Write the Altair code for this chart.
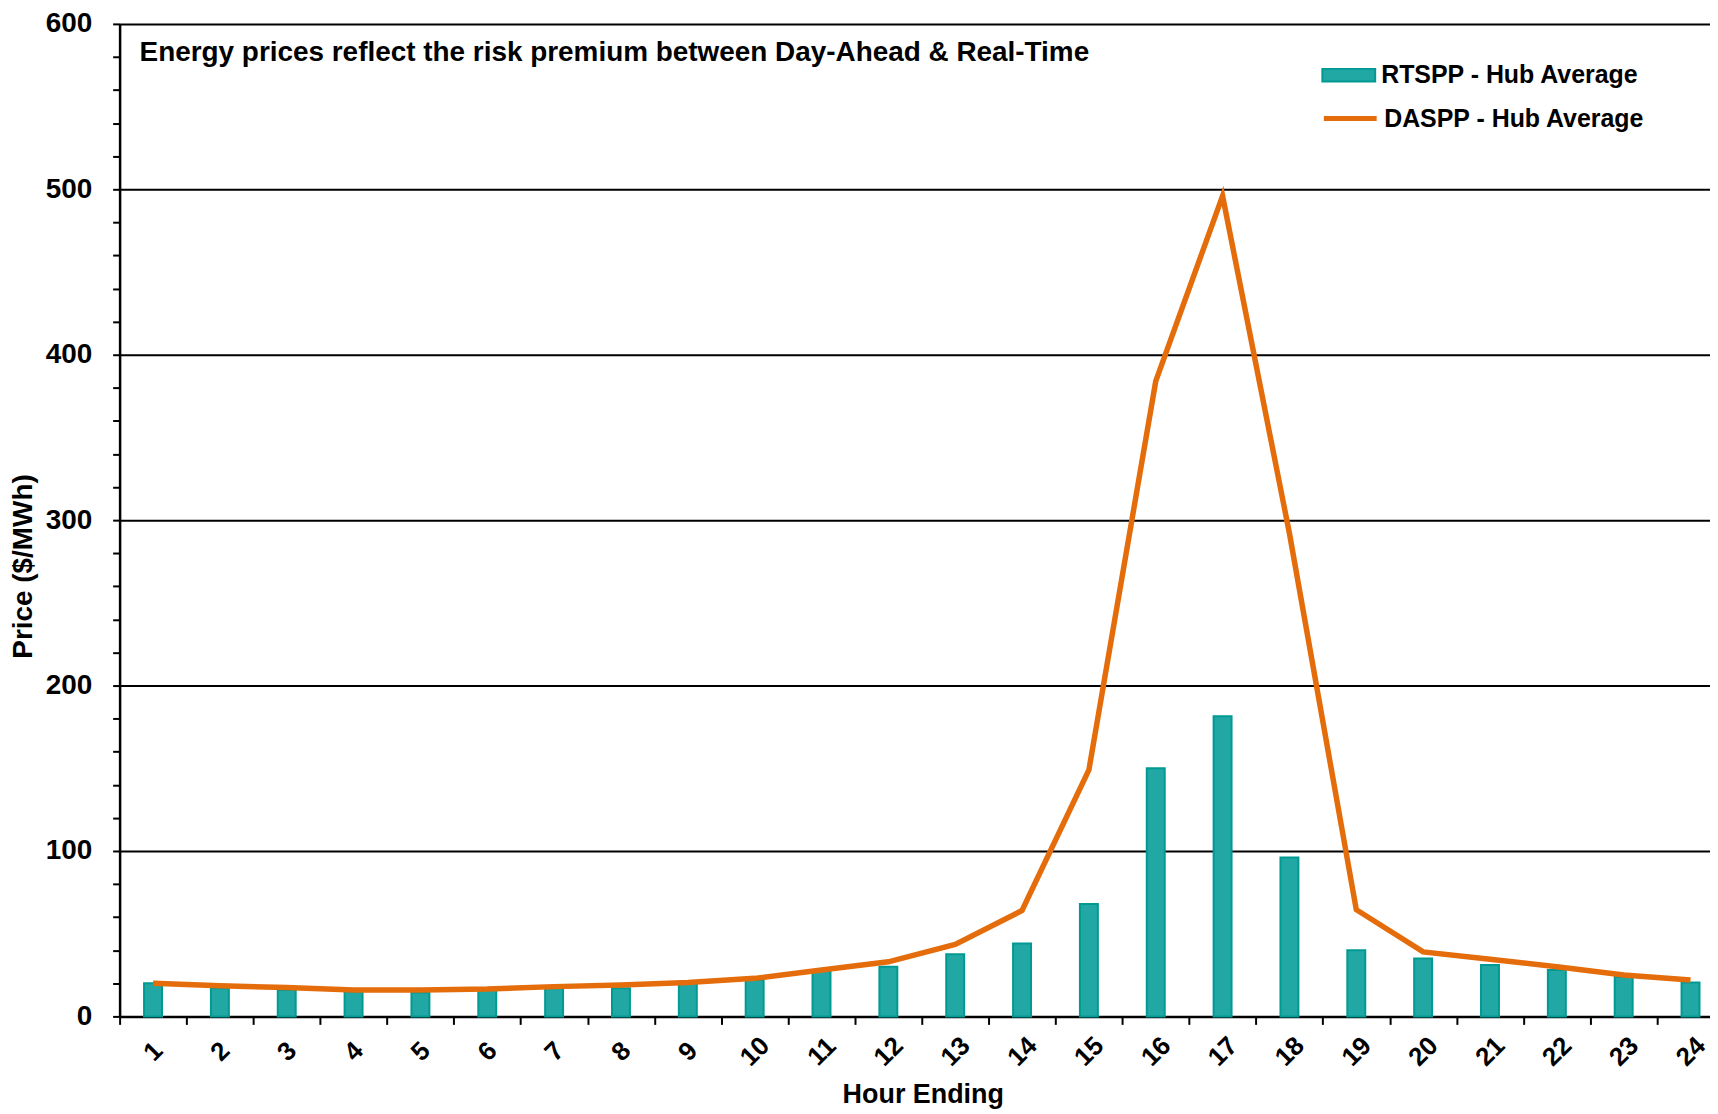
import altair as alt
import pandas as pd

HOURS = list(range(1, 25))
RTSPP = [20, 17, 16, 15, 14.5, 16, 17, 17, 20, 22, 28, 30, 37.5, 44, 68, 150, 181.5, 96, 40, 35, 31, 28, 24, 20.5]
DASPP = [20, 18.5, 17.5, 16, 16, 16.5, 18, 19, 20.5, 23, 28, 33, 43.5, 64, 149, 384, 496, 292, 64.5, 39, 34.5, 30, 25, 22]
SERIES = ["RTSPP - Hub Average", "DASPP - Hub Average"]
TITLE = ["Energy prices reflect the risk premium between Day-Ahead & Real-Time"]
Y_TICKS = list(range(0, 601, 20))

FONT = "Liberation Sans"
TEAL = "#22A8A4"
TEAL_DARK = "#009994"
ORANGE = "#E46C0A"

df = pd.DataFrame({
    "hour": HOURS,
    "rt": RTSPP,
    "da": DASPP,
    "rt_name": [SERIES[0]] * len(HOURS),
    "da_name": [SERIES[1]] * len(HOURS),
})

x_axis = alt.Axis(
    labelAngle=315, labelAlign="center", labelBaseline="middle", labelPadding=27,
    labelFont=FONT, labelFontSize=26, labelFontWeight="bold", labelColor="black",
    labelOverlap=False, tickBand="extent", tickSize=8, tickWidth=2, tickColor="black",
    domainColor="black", domainWidth=2.5, grid=False,
    titleFont=FONT, titleFontSize=27, titleFontWeight="bold", titleColor="black",
    titleX=806, titleY=78, titleBaseline="middle", titleAlign="center",
)

y_axis = alt.Axis(
    values=Y_TICKS,
    labelExpr="datum.value % 100 === 0 ? datum.label : ''",
    gridOpacity={"condition": {"test": "datum.value % 100 === 0", "value": 1}, "value": 0},
    gridColor="black", gridWidth=2,
    tickSize=7, tickWidth=2, tickColor="black",
    domainColor="black", domainWidth=2.5,
    labelPadding=21, labelFont=FONT, labelFontSize=28, labelFontWeight="bold", labelColor="black",
    title="Price ($/MWh)", titleFont=FONT, titleFontSize=28, titleFontWeight="bold", titleColor="black",
    titleAngle=270, titleX=-96, titleY=544, titleBaseline="middle", titleAlign="center",
)

x_enc = alt.X("hour:O", title="Hour Ending", axis=x_axis, scale=alt.Scale(paddingInner=0, paddingOuter=0))

bars = alt.Chart(df).mark_bar(size=18, stroke=TEAL_DARK, strokeWidth=2).encode(
    x=x_enc,
    y=alt.Y("rt:Q", scale=alt.Scale(domain=[0, 600], nice=False), axis=y_axis),
    fill=alt.Fill(
        "rt_name:N",
        scale=alt.Scale(domain=[SERIES[0]], range=[TEAL]),
        legend=alt.Legend(
            title=None, orient="none", legendX=1206, legendY=24, padding=0,
            symbolType="M-1,-0.24L1,-0.24L1,0.24L-1,0.24Z", symbolSize=2809,
            symbolStrokeColor=TEAL_DARK, symbolStrokeWidth=2, symbolOpacity=1,
            labelFont=FONT, labelFontSize=25, labelFontWeight="bold", labelColor="black",
            labelOffset=5, labelLimit=0,
        ),
    ),
)

line = alt.Chart(df).mark_line(strokeWidth=5.5, color=ORANGE).encode(
    x=x_enc,
    y=alt.Y("da:Q", scale=alt.Scale(domain=[0, 600], nice=False), axis=y_axis),
    stroke=alt.Stroke(
        "da_name:N",
        scale=alt.Scale(domain=[SERIES[1]], range=[ORANGE]),
        legend=alt.Legend(
            title=None, orient="none", legendX=1206, legendY=66, padding=0,
            symbolType="stroke", symbolSize=2809, symbolStrokeWidth=5,
            labelFont=FONT, labelFontSize=25, labelFontWeight="bold", labelColor="black",
            labelOffset=5, labelLimit=0,
        ),
    ),
)

title = alt.Chart(pd.DataFrame({"t": TITLE})).mark_text(
    align="left", baseline="middle", font=FONT, fontSize=28, fontWeight="bold", color="black"
).encode(x=alt.value(20), y=alt.value(29), text="t:N")

chart = alt.layer(bars, line, title).properties(
    width=1610, height=996,
    autosize=alt.AutoSizeParams(type="none"),
    padding={"left": 112, "top": 14, "right": -14, "bottom": 96},
).configure_view(stroke=None)

chart.save("out.html", embed_options={"renderer": "svg", "actions": False})
